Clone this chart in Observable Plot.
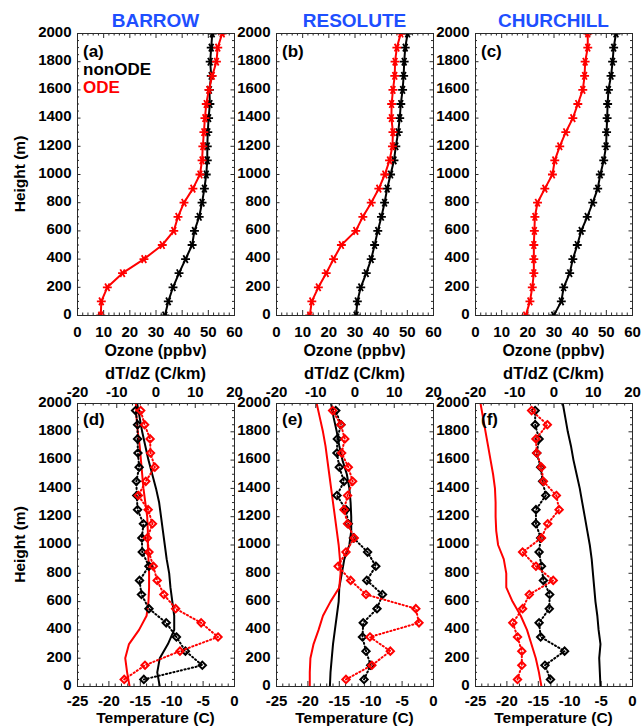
<!DOCTYPE html>
<html>
<head>
<meta charset="utf-8">
<script src="https://cdn.jsdelivr.net/npm/d3@7"></script>
<script src="https://cdn.jsdelivr.net/npm/@observablehq/plot@0.6"></script>
<style>
  html, body { margin: 0; padding: 0; background: #fff; overflow: hidden; }
  #root { position: relative; width: 643px; height: 726px; overflow: hidden; }
</style>
</head>
<body>
<div id="root"></div>
<script>
// ---------------- DATA ----------------
const stations = ["BARROW", "RESOLUTE", "CHURCHILL"];
const topLetters = ["(a)", "(b)", "(c)"];
const bottomLetters = ["(d)", "(e)", "(f)"];

const heights = [0, 100, 200, 300, 400, 500, 600, 700, 800, 900, 1000,
                 1100, 1200, 1300, 1400, 1500, 1600, 1700, 1800, 1900, 2000];
const midHeights = [50, 150, 250, 350, 450, 550, 650, 750, 850, 950,
                    1050, 1150, 1250, 1350, 1450, 1550, 1650, 1750, 1850, 1950];

const ozoneTicks = [0, 10, 20, 30, 40, 50, 60];
const heightTicks = [0, 200, 400, 600, 800, 1000, 1200, 1400, 1600, 1800, 2000];
const tempTicks = [-25, -20, -15, -10, -5, 0];
const gradTicks = [-20, -10, 0, 10, 20];

// Ozone (ppbv) at heights
const barrowO3ODE    = [8.9, 9.1, 11.4, 17.2, 25.4, 32.4, 36.8, 38.4, 40.7, 44.1, 46.8, 47.6, 47.9, 48.3, 48.7, 49.2, 50.2, 51.5, 53.1, 53.6, 55.3];
const barrowO3non    = [33.4, 34.7, 36.5, 38.8, 41.3, 43.8, 44.7, 46.5, 47.6, 48.5, 49.2, 49.6, 49.6, 49.8, 50.1, 50.6, 50.4, 51.1, 50.7, 51.1, 51.5];
const resoluteO3ODE  = [12.7, 13.5, 16.0, 19.0, 21.8, 24.8, 30.3, 33.0, 36.2, 39.1, 41.4, 43.2, 44.3, 44.5, 43.9, 44.0, 44.5, 45.2, 45.3, 46.0, 47.5];
const resoluteO3non  = [30.4, 30.9, 32.2, 34.3, 36.2, 37.5, 38.7, 40.1, 41.3, 42.3, 43.6, 44.9, 45.6, 46.5, 47.1, 47.5, 48.2, 48.6, 48.8, 49.2, 50.1];
const churchillO3ODE = [19.2, 20.8, 21.7, 22.3, 22.3, 22.3, 22.5, 22.7, 23.7, 26.5, 29.4, 30.3, 32.2, 34.5, 37.2, 39.1, 41.0, 41.7, 41.9, 42.9, 42.9];
const churchillO3non = [29.9, 32.8, 33.7, 36.0, 37.2, 38.9, 40.4, 42.7, 44.8, 46.7, 47.7, 49.0, 49.9, 50.1, 50.3, 50.5, 50.8, 51.8, 52.4, 52.8, 53.7];

// Temperature (C) at heights
const barrowTODE    = [-16.7, -17.1, -17.4, -16.8, -15.2, -14.0, -13.7, -13.6, -13.6, -13.7, -13.8, -13.8, -13.9, -14.2, -14.5, -14.7, -14.9, -15.1, -15.4, -15.6, -15.7];
const barrowTnon    = [-11.9, -12.3, -11.9, -10.6, -9.6, -9.6, -9.9, -10.2, -10.4, -10.8, -11.1, -11.4, -11.7, -12.0, -12.5, -13.1, -13.7, -14.2, -14.7, -15.1, -15.5];
const resoluteTODE  = [-19.7, -19.7, -19.6, -19.1, -18.3, -17.6, -16.4, -15.0, -14.8, -14.9, -15.1, -15.4, -15.7, -16.0, -16.3, -16.6, -16.9, -17.2, -17.6, -18.1, -18.6];
const resoluteTnon  = [-16.5, -16.4, -16.2, -16.0, -15.7, -15.4, -15.1, -15.0, -14.6, -14.2, -13.4, -13.1, -13.1, -13.2, -13.4, -13.8, -14.5, -15.0, -15.4, -15.9, -16.3];
const churchillTODE = [-14.5, -14.9, -15.4, -16.1, -16.8, -17.8, -19.1, -20.1, -20.1, -20.5, -21.4, -21.7, -21.8, -21.8, -21.9, -22.2, -22.6, -23.0, -23.4, -23.8, -24.2];
const churchillTnon = [-5.1, -5.2, -5.3, -5.1, -5.4, -5.6, -5.9, -6.1, -6.3, -6.5, -6.8, -7.2, -7.6, -8.0, -8.4, -8.9, -9.4, -9.8, -10.3, -10.7, -11.1];

// dT/dZ (C/km) at mid heights
const barrowGODE    = [-8.1, -2.8, 6.1, 15.8, 11.5, 5.0, 2.0, 0.3, -0.7, -1.8, -2.2, -0.9, -2.0, -4.5, -2.6, -0.3, -1.4, -1.5, -2.9, -3.9];
const barrowGnon    = [-3.1, 11.8, 7.5, 5.2, 2.6, -1.8, -3.7, -4.2, -1.8, -3.5, -3.6, -3.2, -4.7, -4.9, -5.0, -4.3, -4.6, -4.7, -4.7, -5.2];
const resoluteGODE  = [-2.3, 4.3, 9.0, 3.8, 16.3, 15.5, 2.8, -1.1, -4.3, -2.3, -0.2, -1.9, -2.8, -1.9, -0.6, -1.7, -3.4, -2.6, -3.6, -5.7];
const resoluteGnon  = [2.3, 4.0, 2.8, 1.9, 2.1, 5.6, 7.0, 3.0, 5.3, 3.2, -0.4, -1.7, -2.3, -4.6, -2.8, -4.0, -4.6, -4.5, -3.6, -4.9];
const churchillGODE = [-9.3, -8.2, -8.2, -9.3, -10.5, -8.0, -6.3, -0.2, -4.6, -8.0, -3.2, -1.6, 1.3, 0.6, -2.7, -3.2, -4.4, -4.6, -1.7, -5.7];
const churchillGnon = [-0.9, -2.3, 2.7, -3.4, -3.8, -1.2, -1.1, -2.7, -3.2, -3.8, -3.4, -4.6, -4.6, -2.1, -2.9, -3.4, -4.4, -3.8, -4.8, -4.8];

// ---------------- LAYOUT / STYLE ----------------
const root = document.getElementById("root");
const AX = "#2a2a2a";
const FONT = "'Liberation Sans', Arial, Helvetica, sans-serif";
const BLUE = "#1e4fff";
const colLeft = [77, 276, 475];
const FW = 157, ML = 48, MR = 10, MT = 30, MB = 30;
const TOPROW = {frameTop: 33, frameH: 282};
const BOTROW = {frameTop: 403, frameH: 283};
const plotStyle = {
  fontFamily: FONT, fontSize: "15px", fontWeight: "bold",
  background: "transparent", overflow: "visible", color: "black"
};
const fmt = d => String(d);

const ozoneMinor = d3.range(0, 61, 2).filter(v => v % 10 !== 0);
const heightMinor = d3.range(0, 2001, 50).filter(v => v % 200 !== 0);
const tempMinor = d3.range(-25, 1, 1).filter(v => v % 5 !== 0);
const gradMinor = d3.range(-20, 21, 2).filter(v => v % 10 !== 0);

function rows(hs, vals) { return hs.map((h, k) => ({h, v: vals[k]})); }

function place(el, left, top) {
  const d = document.createElement("div");
  d.style.cssText = `position:absolute;left:${left}px;top:${top}px;`;
  d.appendChild(el);
  root.appendChild(d);
}

function ticksX(major, minor, frameH, sides) {
  const out = [];
  for (const side of sides) {
    const key = side === "bottom" ? "insetTop" : "insetBottom";
    out.push(Plot.tickX(major, {x: d => d, [key]: frameH - 5, stroke: AX}));
    out.push(Plot.tickX(minor, {x: d => d, [key]: frameH - 2.5, stroke: AX}));
  }
  return out;
}
function ticksY(major, minor) {
  return [
    Plot.tickY(major, {y: d => d, insetRight: FW - 3.5, stroke: AX}),
    Plot.tickY(major, {y: d => d, insetLeft: FW - 3.5, stroke: AX}),
    Plot.tickY(minor, {y: d => d, insetRight: FW - 2, stroke: AX}),
    Plot.tickY(minor, {y: d => d, insetLeft: FW - 2, stroke: AX})
  ];
}
const yAxis = () => Plot.axisY({ticks: heightTicks, anchor: "left", tickSize: 0, tickPadding: 6, dy: -1.5, label: null, tickFormat: fmt});

function ozonePanel(i, ode, non) {
  const W = FW + ML + MR, H = TOPROW.frameH + MT + MB;
  const rn = rows(heights, non), ro = rows(heights, ode);
  const star = (stroke) => ({x: "v", y: "h", symbol: "asterisk", r: 4.2, rotate: 90, stroke, strokeWidth: 1.8, clip: true});
  const p = Plot.plot({
    width: W, height: H, marginLeft: ML, marginRight: MR, marginTop: MT, marginBottom: MB,
    style: plotStyle,
    x: {domain: [0, 60]}, y: {domain: [0, 2000]},
    marks: [
      ...ticksX(ozoneTicks, ozoneMinor, TOPROW.frameH, ["bottom", "top"]),
      ...ticksY(heightTicks, heightMinor),
      Plot.axisX({ticks: ozoneTicks, anchor: "bottom", tickSize: 0, tickPadding: 11, label: null, tickFormat: fmt}),
      yAxis(),
      Plot.line(rn, {x: "v", y: "h", stroke: "black", strokeWidth: 2, clip: true}),
      Plot.dot(rn, star("black")),
      Plot.line(ro, {x: "v", y: "h", stroke: "red", strokeWidth: 2, clip: true}),
      Plot.dot(ro, star("red")),
      Plot.frame({stroke: AX})
    ]
  });
  place(p, colLeft[i] - ML, TOPROW.frameTop - MT);
}

function tempPanel(i, tO, tN, gO, gN) {
  const W = FW + ML + MR, H = BOTROW.frameH + MT + MB;
  const common = {width: W, height: H, marginLeft: ML, marginRight: MR, marginTop: MT, marginBottom: MB, style: plotStyle};
  const p1 = Plot.plot({
    ...common,
    x: {domain: [-25, 0]}, y: {domain: [0, 2000]},
    marks: [
      ...ticksX(tempTicks, tempMinor, BOTROW.frameH, ["bottom"]),
      ...ticksY(heightTicks, heightMinor),
      Plot.axisX({ticks: tempTicks, anchor: "bottom", tickSize: 0, tickPadding: 9, label: null, tickFormat: fmt}),
      yAxis(),
      Plot.line(rows(heights, tN), {x: "v", y: "h", stroke: "black", strokeWidth: 2, clip: true}),
      Plot.line(rows(heights, tO), {x: "v", y: "h", stroke: "red", strokeWidth: 2, clip: true}),
      Plot.frame({stroke: AX})
    ]
  });
  const gn = rows(midHeights, gN), go = rows(midHeights, gO);
  const dotted = (stroke) => ({x: "v", y: "h", stroke, strokeWidth: 2, strokeDasharray: "1.2,2.6", clip: true});
  const diamond = (stroke) => ({x: "v", y: "h", symbol: "diamond2", r: 3.3, stroke, strokeWidth: 2, fill: "none", clip: true});
  const p2 = Plot.plot({
    ...common,
    x: {domain: [-20, 20]}, y: {domain: [0, 2000], axis: null},
    marks: [
      ...ticksX(gradTicks, gradMinor, BOTROW.frameH, ["top"]),
      Plot.axisX({ticks: gradTicks, anchor: "top", tickSize: 0, tickPadding: 7, label: null, tickFormat: fmt}),
      Plot.line(gn, dotted("black")),
      Plot.dot(gn, diamond("black")),
      Plot.line(go, dotted("red")),
      Plot.dot(go, diamond("red"))
    ]
  });
  place(p1, colLeft[i] - ML, BOTROW.frameTop - MT);
  place(p2, colLeft[i] - ML, BOTROW.frameTop - MT);
}

ozonePanel(0, barrowO3ODE, barrowO3non);
ozonePanel(1, resoluteO3ODE, resoluteO3non);
ozonePanel(2, churchillO3ODE, churchillO3non);
tempPanel(0, barrowTODE, barrowTnon, barrowGODE, barrowGnon);
tempPanel(1, resoluteTODE, resoluteTnon, resoluteGODE, resoluteGnon);
tempPanel(2, churchillTODE, churchillTnon, churchillGODE, churchillGnon);

// ---------------- TEXT ----------------
const svg = d3.select(root).append("svg")
  .attr("width", 643).attr("height", 726)
  .style("position", "absolute").style("left", "0px").style("top", "0px")
  .style("pointer-events", "none")
  .attr("font-family", FONT).attr("font-weight", "bold");

stations.forEach((s, i) => {
  const cx = colLeft[i] + FW / 2;
  svg.append("text").attr("x", cx).attr("y", 27).attr("text-anchor", "middle")
    .attr("font-size", 19).attr("fill", BLUE).text(s);
  svg.append("text").attr("x", cx).attr("y", 356).attr("text-anchor", "middle")
    .attr("font-size", 16).text("Ozone (ppbv)");
  svg.append("text").attr("x", cx).attr("y", 379).attr("text-anchor", "middle")
    .attr("font-size", 16.5).text("dT/dZ (C/km)");
  svg.append("text").attr("x", cx).attr("y", 723).attr("text-anchor", "middle")
    .attr("font-size", 15.5).text("Temperature (C)");
  svg.append("text").attr("x", colLeft[i] + 6).attr("y", 57)
    .attr("font-size", 17).text(topLetters[i]);
  svg.append("text").attr("x", colLeft[i] + 6).attr("y", 425)
    .attr("font-size", 17).text(bottomLetters[i]);
});
svg.append("text").attr("x", 83).attr("y", 75).attr("font-size", 17).text("nonODE");
svg.append("text").attr("x", 83).attr("y", 93).attr("font-size", 17).attr("fill", "red").text("ODE");

[TOPROW, BOTROW].forEach(r => {
  const cy = r.frameTop + r.frameH / 2;
  svg.append("text").attr("transform", `translate(25,${cy}) rotate(-90)`)
    .attr("text-anchor", "middle").attr("font-size", 15.5).text("Height (m)");
});
</script>
</body>
</html>
